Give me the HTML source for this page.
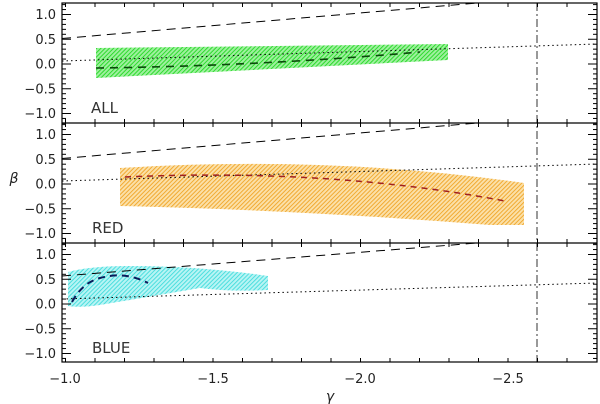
<!DOCTYPE html>
<html><head><meta charset="utf-8"><style>
html,body{margin:0;padding:0;background:#fff;}
svg{display:block;font-family:"DejaVu Sans","Liberation Sans",sans-serif;}
</style></head><body>
<svg width="600" height="404" viewBox="0 0 600 404" xmlns="http://www.w3.org/2000/svg">
<defs>
<pattern id="hg" patternUnits="userSpaceOnUse" width="3" height="3" patternTransform="rotate(45)"><rect width="3" height="3" fill="#9ef09e"/><line x1="0" y1="0" x2="0" y2="3" stroke="#22d822" stroke-width="1.8"/></pattern>
<pattern id="ho" patternUnits="userSpaceOnUse" width="3" height="3" patternTransform="rotate(45)"><rect width="3" height="3" fill="#fbe0a8"/><line x1="0" y1="0" x2="0" y2="3" stroke="#f0a425" stroke-width="1.8"/></pattern>
<pattern id="hc" patternUnits="userSpaceOnUse" width="3" height="3" patternTransform="rotate(45)"><rect width="3" height="3" fill="#b8f4f4"/><line x1="0" y1="0" x2="0" y2="3" stroke="#40dcdc" stroke-width="1.8"/></pattern>
<clipPath id="c1"><rect x="62" y="3" width="535" height="120"/></clipPath>
<clipPath id="c2"><rect x="62" y="123" width="535" height="120"/></clipPath>
<clipPath id="c3"><rect x="62" y="243" width="535" height="119"/></clipPath>
</defs>

<!-- Panel 1 -->
<g clip-path="url(#c1)">
<polygon points="96,48 448,44 448,60 96,78" fill="url(#hg)"/>
<line x1="62" y1="38.5" x2="477" y2="3" stroke="#000" stroke-width="1" stroke-dasharray="9,6"/>
<line x1="62" y1="61" x2="597" y2="44" stroke="#000" stroke-width="1" stroke-dasharray="1.5,3"/>
<path d="M96,68 Q260,66 420,52" fill="none" stroke="#0a4a0a" stroke-width="1.6" stroke-dasharray="8,6"/>
</g>
<!-- Panel 2 -->
<g clip-path="url(#c2)">
<path d="M120,168 Q330,155 524,183 L524,225 L490,225 Q300,210 120,206 Z" fill="url(#ho)"/>
<line x1="62" y1="158.5" x2="477" y2="123" stroke="#000" stroke-width="1" stroke-dasharray="9,6"/>
<line x1="62" y1="181" x2="597" y2="164" stroke="#000" stroke-width="1" stroke-dasharray="1.5,3"/>
<path d="M125,177 Q330,168 505,201" fill="none" stroke="#a02020" stroke-width="1.5" stroke-dasharray="6,5"/>
</g>
<!-- Panel 3 -->
<g clip-path="url(#c3)">
<path d="M68,272 Q90,266 130,266 Q200,266 268,276 L268,290 Q230,292 200,288 Q130,300 100,305 Q80,308 68,306 Z" fill="url(#hc)"/>
<line x1="62" y1="276" x2="477" y2="243" stroke="#000" stroke-width="1" stroke-dasharray="9,6"/>
<line x1="62" y1="299" x2="597" y2="283" stroke="#000" stroke-width="1" stroke-dasharray="1.5,3"/>
<path d="M72,302 Q82,283 100,278 Q125,271 148,283" fill="none" stroke="#0a1a5a" stroke-width="2" stroke-dasharray="7,5"/>
</g>

<!-- vertical dash-dot -->
<line x1="537" y1="3" x2="537" y2="362" stroke="#333" stroke-width="1" stroke-dasharray="8,3,2,3"/>

<!-- frames -->
<g fill="none" stroke="#000" stroke-width="1.2">
<rect x="62" y="3" width="535" height="359"/>
<line x1="62" y1="123" x2="597" y2="123"/>
<line x1="62" y1="243" x2="597" y2="243"/>
</g>

<!-- ticks -->
<g stroke="#000" stroke-width="1" id="ticks"></g>

<g font-size="13" fill="#222" text-anchor="end" id="ylab"></g>
<g font-size="13" fill="#222" text-anchor="middle">
<text x="65" y="383">−1.0</text>
<text x="213" y="383">−1.5</text>
<text x="360" y="383">−2.0</text>
<text x="508" y="383">−2.5</text>
<text x="330" y="401" font-style="italic" font-size="14">γ</text>
</g>
<text x="14" y="183" font-size="14" font-style="italic" text-anchor="middle" fill="#222">β</text>
<g font-size="15" fill="#333">
<text x="91" y="113">ALL</text>
<text x="92" y="233">RED</text>
<text x="92" y="353">BLUE</text>
</g>

<script>
(function(){
var ns="http://www.w3.org/2000/svg";
var t=document.getElementById('ticks'),yl=document.getElementById('ylab');
function L(x1,y1,x2,y2){var l=document.createElementNS(ns,'line');l.setAttribute('x1',x1);l.setAttribute('y1',y1);l.setAttribute('x2',x2);l.setAttribute('y2',y2);t.appendChild(l);}
var zero=[64,184,304];
zero.forEach(function(z){
 for(var i=-12;i<=12;i++){var y=z-i*4.95;if(y<3.5||y>362)continue;var maj=(i%5===0);var len=maj?9:4;L(62,y,62+len,y);L(597,y,597-len,y);}
 [-1,-0.5,0,0.5,1].forEach(function(v){var tx=document.createElementNS(ns,'text');tx.setAttribute('x',56);tx.setAttribute('y',z-v*49.5+4.5);tx.textContent=(v<0?'−':'')+Math.abs(v).toFixed(1);yl.appendChild(tx);});
});
[3,123,243,362].forEach(function(y,k){
 for(var i=0;i<=18;i++){var x=65.5+i*29.5;if(x>596)continue;
  if(k<3)L(x,y,x,y+4);if(k>0)L(x,y,x,y-4);}
});
})();
</script>
</svg>
</body></html>
